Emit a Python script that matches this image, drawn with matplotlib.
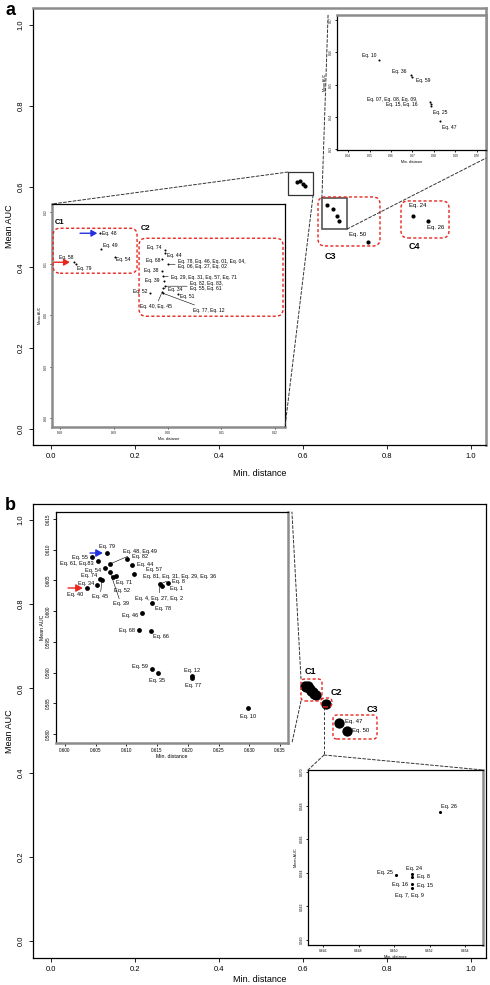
import matplotlib
matplotlib.use("Agg")
import matplotlib.pyplot as plt
from matplotlib.patches import ConnectionPatch, FancyBboxPatch, Rectangle

plt.rcParams["font.family"] = ["Liberation Sans", "DejaVu Sans"]

W, H = 490, 985

# ---------------- panel a : main scatter ----------------
a_x = [0.586, 0.593, 0.600, 0.605, 0.656, 0.671, 0.681, 0.685, 0.754, 0.861, 0.897]
a_y = [0.611, 0.614, 0.606, 0.601, 0.554, 0.544, 0.528, 0.514, 0.464, 0.528, 0.516]
a_names = ["", "", "", "", "", "", "", "", "Eq. 50", "Eq. 24", "Eq. 26"]

# panel a : left inset (square near 0.6, 0.61)
a1_x = [0.58744, 0.58763, 0.59023, 0.58260, 0.58298, 0.59953, 0.59953, 0.59898, 0.60009,
        0.59898, 0.59916, 0.59935, 0.59953, 0.59916, 0.60195, 0.59674, 0.59898, 0.59916]
a1_y = [0.61592, 0.61282, 0.61126, 0.61029, 0.60990, 0.61262, 0.61204, 0.61087, 0.60990,
        0.60854, 0.60757, 0.60660, 0.60564, 0.60525, 0.60408, 0.60427, 0.60447, 0.60427]
a1_names = ["Eq. 48", "Eq. 49", "Eq. 54", "Eq. 58", "Eq. 79", "Eq. 74", "Eq. 44", "Eq. 68",
            "Eq. 78, Eq. 46, Eq. 01, Eq. 04,\nEq. 06, Eq. 27, Eq. 02", "Eq. 38",
            "Eq. 29, Eq. 31, Eq. 57, Eq. 71", "Eq. 39", "Eq. 82, Eq. 83,\nEq. 55, Eq. 61",
            "Eq. 34", "Eq. 51", "Eq. 52", "Eq. 40, Eq. 45", "Eq. 77, Eq. 12"]
a1_xticks = [0.58, 0.59, 0.60, 0.61, 0.62]
a1_yticks = [0.58, 0.59, 0.60, 0.61, 0.62]

# panel a : top-right inset (cluster C3)
a2_x = [0.65442, 0.66930, 0.66977, 0.67814, 0.67860, 0.67860, 0.68279]
a2_y = [0.55762, 0.55297, 0.55235, 0.54461, 0.54399, 0.54337, 0.53873]
a2_names = ["Eq. 10", "Eq. 36", "Eq. 59", "Eq. 07, Eq. 08, Eq. 09,\nEq. 15, Eq. 16", "", "Eq. 25", "Eq. 47"]
a2_xticks = [0.64, 0.65, 0.66, 0.67, 0.68, 0.69, 0.70]
a2_yticks = [0.53, 0.54, 0.55, 0.56, 0.57]

# ---------------- panel b : main scatter ----------------
b_x = [0.604, 0.608, 0.612, 0.616, 0.619, 0.623, 0.627, 0.631, 0.655, 0.686, 0.705]
b_y = [0.606, 0.603, 0.605, 0.599, 0.595, 0.591, 0.587, 0.584, 0.563, 0.518, 0.499]
b_names = ["", "", "", "", "", "", "", "", "", "Eq. 47", "Eq. 50"]

# panel b : left inset (C1)
b1_x = [0.60684, 0.60440, 0.60537, 0.60733, 0.61010, 0.60651, 0.61091, 0.61124, 0.60570,
        0.60521, 0.60358, 0.60603, 0.60831, 0.60782, 0.60733, 0.61547, 0.61677, 0.61580,
        0.61417, 0.61254, 0.61205, 0.61401, 0.61417, 0.61515, 0.62068, 0.62068, 0.62980]
b1_y = [0.60946, 0.60881, 0.60816, 0.60767, 0.60849, 0.60702, 0.60751, 0.60604, 0.60523,
        0.60425, 0.60376, 0.60507, 0.60572, 0.60555, 0.60637, 0.60441, 0.60458, 0.60409,
        0.60132, 0.59969, 0.59692, 0.59676, 0.59057, 0.58992, 0.58943, 0.58910, 0.58422]
b1_names = ["Eq. 79", "Eq. 55", "Eq. 61, Eq.83", "Eq. 48, Eq.49", "Eq. 82", "Eq. 54", "Eq. 44",
            "Eq. 57", "Eq. 74", "Eq. 34", "Eq. 40", "Eq. 45", "Eq. 71", "Eq. 52", "Eq. 39",
            "Eq. 81, Eq. 31, Eq. 29, Eq. 36", "Eq. 8", "Eq. 1", "Eq. 78", "Eq. 46", "Eq. 68",
            "Eq. 66", "Eq. 59", "Eq. 35", "Eq. 12", "Eq. 77", "Eq. 10"]
b1_xticks = [0.600, 0.605, 0.610, 0.615, 0.620, 0.625, 0.630, 0.635]
b1_yticks = [0.580, 0.585, 0.590, 0.595, 0.600, 0.605, 0.610, 0.615]

# panel b : bottom-right inset (C2)
b2_x = [0.65259, 0.65101, 0.65011, 0.65101, 0.65101, 0.65101]
b2_y = [0.56762, 0.56393, 0.56387, 0.56375, 0.56333, 0.56310]
b2_names = ["Eq. 26", "Eq. 24", "Eq. 25", "Eq. 8", "Eq. 15", "Eq. 7, Eq. 9"]
b2_xticks = [0.646, 0.648, 0.650, 0.652, 0.654]
b2_yticks = [0.560, 0.562, 0.564, 0.566, 0.568, 0.570]

main_ticks = [0.0, 0.2, 0.4, 0.6, 0.8, 1.0]

# label placement: (dx, dy) in pixels from the point, horizontal alignment
a_lab = {"Eq. 50": (-19, 7, "left"), "Eq. 24": (-4, 10, "left"), "Eq. 26": (-1, -7, "left")}
a1_lab = [(2, 0, "left"), (2, 4, "left"), (1, -2, "left"), (-1, 5, "right"), (1, -4, "left"),
          (-4, 3, "right"), (2, -2, "left"), (-2, -1, "right"), (10, 0, "left"), (-4, 1, "right"),
          (8, -1, "left"), (-5, 1, "right"), (25, 0, "left"), (5, -1, "left"), (2, -2, "left"),
          (-3, 2, "right"), (-22, -14, "left"), (30, -17, "left")]
a2_lab = [(-3, 4, "right"), (-5, 4, "right"), (4, -3, "left"), (-12, 0, "right"), None,
          (2, -6, "left"), (2, -7, "left")]
b_lab = {"Eq. 47": (6, 1, "left"), "Eq. 50": (5, 0, "left")}
b1_lab = [(-8, 7, "left"), (-4, 0, "right"), (-4, -2, "right"), (13, 13, "left"), (5, 2, "left"),
          (-4, -2, "right"), (5, 0, "left"), (12, 5, "left"), (-3, 3, "right"), (-3, 2, "right"),
          (-4, -6, "right"), (-10, -17, "left"), (0, -7, "left"), (1, -13, "left"), (3, -32, "left"),
          (-17, 8, "left"), (4, 1, "left"), (8, -3, "left"), (3, -5, "left"), (-4, -2, "right"),
          (-4, 0, "right"), (2, -5, "left"), (-4, 3, "right"), (-9, -7, "left"), (-8, 6, "left"),
          (-7, -7, "left"), (-8, -8, "left")]
b2_lab = [(1, 5, "left"), (-6, 5, "left"), (-3, 2, "right"), (5, 0, "left"), (5, -1, "left"), (-17, -8, "left")]


def px_rect(x0, y0, x1, y1):
    return [x0 / W, 1 - y1 / H, (x1 - x0) / W, (y1 - y0) / H]


def frame(ax, gray, lw=0.9):
    for side in ["left", "right", "top", "bottom"]:
        if side[0] in gray:
            ax.spines[side].set_color("#8c8c8c")
            ax.spines[side].set_linewidth(1.8)
        else:
            ax.spines[side].set_color("black")
            ax.spines[side].set_linewidth(lw)


def setup(ax, xlim, ylim, xticks, yticks, fs, ticklen, fmt):
    ax.set_xlim(*xlim)
    ax.set_ylim(*ylim)
    ax.set_xticks(xticks)
    ax.set_yticks(yticks)
    ax.set_xticklabels([fmt.format(v) for v in xticks], fontsize=fs)
    ax.set_yticklabels([fmt.format(v) for v in yticks], fontsize=fs, rotation=90, va="center")
    ax.tick_params(length=ticklen, width=0.6, pad=1.5 if fs < 4 else 3, direction="out")


def red_box(ax, x0, y0, x1, y1, r_px=6):
    pos = ax.get_position()
    xl, yl = ax.get_xlim(), ax.get_ylim()
    sx = pos.width * W / (xl[1] - xl[0])
    sy = pos.height * H / (yl[1] - yl[0])
    p = FancyBboxPatch((x0, y0), x1 - x0, y1 - y0,
                       boxstyle=f"round,pad=0,rounding_size={r_px / sx}",
                       mutation_aspect=sx / sy, fill=False, edgecolor="#e8261e",
                       linestyle=(0, (2.2, 1.6)), linewidth=1.0, zorder=5)
    ax.add_patch(p)


def put_labels(ax, xs, ys, names, specs, fs, line_for=()):
    for i, (x, y, name) in enumerate(zip(xs, ys, names)):
        if not name:
            continue
        spec = specs[name] if isinstance(specs, dict) else specs[i]
        if spec is None:
            continue
        dx, dy, ha = spec
        kw = {}
        if i in line_for:
            kw["arrowprops"] = dict(arrowstyle="-", lw=0.4, color="black", shrinkA=0, shrinkB=1)
        ax.annotate(name, (x, y), xytext=(dx, dy), textcoords="offset pixels",
                    ha=ha, va="center", fontsize=fs, linespacing=0.95, **kw)


def connect(fig, ax_from, xy_from, ax_to, xy_to):
    con = ConnectionPatch(xyA=xy_from, coordsA=ax_from.transData, xyB=xy_to,
                          coordsB=ax_to.transAxes, color="#333333", lw=0.7,
                          linestyle=(0, (3, 2)), zorder=3)
    fig.add_artist(con)


fig = plt.figure(figsize=(W / 100, H / 100), dpi=100)

# ======================= panel a =======================
ax_a = fig.add_axes(px_rect(33, 8, 486, 445))
setup(ax_a, (-0.0429, 1.0357), (-0.0396, 1.042), main_ticks, main_ticks, 5.5, 3, "{:.1f}")
frame(ax_a, "tr")
ax_a.scatter(a_x, a_y, s=9, color="black", zorder=4, linewidths=0)
put_labels(ax_a, a_x, a_y, a_names, a_lab, 4.3)
ax_a.set_xlabel("Min. distance", fontsize=6.5, labelpad=6)
ax_a.set_ylabel("Mean AUC", fontsize=6.5, labelpad=3)
red_box(ax_a, 0.6357, 0.4530, 0.7833, 0.5743, 7)
red_box(ax_a, 0.8333, 0.4728, 0.9476, 0.5644, 7)
ax_a.text(0.652, 0.438, "C3", fontsize=6.5, fontweight="bold", va="top")
ax_a.text(0.852, 0.462, "C4", fontsize=6.5, fontweight="bold", va="top")
ax_a.add_patch(Rectangle((0.564, 0.579), 0.060, 0.057, fill=False, edgecolor="#333333", lw=0.9, zorder=3))
ax_a.add_patch(Rectangle((0.645, 0.495), 0.060, 0.077, fill=False, edgecolor="#555555", lw=1.2, zorder=3))
fig.text(5 / W, 1 - 2 / H, "a", fontsize=13, fontweight="bold", va="top")

# left inset of panel a
ia1 = fig.add_axes(px_rect(52, 204, 285, 427))
setup(ia1, (0.5785, 0.62186), (0.5783, 0.6216), a1_xticks, a1_yticks, 2.2, 1.5, "{:.2f}")
frame(ia1, "lb")
ia1.scatter(a1_x, a1_y, s=2.2, color="black", zorder=4, linewidths=0)
put_labels(ia1, a1_x, a1_y, a1_names, a1_lab, 3.6, line_for=(8, 10, 12, 13, 16, 17))
ia1.set_xlabel("Min. distance", fontsize=2.6, labelpad=1)
ia1.set_ylabel("Mean AUC", fontsize=2.6, labelpad=1)
red_box(ia1, 0.57870, 0.60816, 0.59433, 0.61689, 7)
red_box(ia1, 0.59470, 0.59981, 0.62149, 0.61495, 7)
ia1.text(0.5791, 0.6180, "C1", fontsize=5.5, fontweight="bold", va="center")
ia1.text(0.5951, 0.6168, "C2", fontsize=5.5, fontweight="bold", va="center")
ia1.annotate("", xy=(a1_x[0], a1_y[0]), xytext=(-20, 0), textcoords="offset pixels",
             arrowprops=dict(arrowstyle="-|>,head_length=0.35,head_width=0.2", color="#2230e0", lw=1.0,
                             shrinkA=0, shrinkB=2))
ia1.annotate("", xy=(a1_x[3], a1_y[3]), xytext=(-20, 0), textcoords="offset pixels",
             arrowprops=dict(arrowstyle="-|>,head_length=0.35,head_width=0.2", color="#e8261e", lw=1.0,
                             shrinkA=0, shrinkB=3))

# top-right inset of panel a
ia2 = fig.add_axes(px_rect(337, 15, 486, 150))
setup(ia2, (0.63488, 0.70419), (0.52975, 0.57155), a2_xticks, a2_yticks, 2.2, 1.5, "{:.2f}")
frame(ia2, "tr")
ia2.scatter(a2_x, a2_y, s=2.2, color="black", zorder=4, linewidths=0)
put_labels(ia2, a2_x, a2_y, a2_names, a2_lab, 3.6)
ia2.set_xlabel("Min. distance", fontsize=2.6, labelpad=1)
ia2.set_ylabel("Mean AUC", fontsize=2.6, labelpad=1)

connect(fig, ax_a, (0.564, 0.636), ia1, (0.0, 1.0))
connect(fig, ax_a, (0.624, 0.579), ia1, (1.0, 0.0))
connect(fig, ax_a, (0.645, 0.572), ia2, (-0.06, 1.0))
connect(fig, ax_a, (0.705, 0.495), ia2, (1.0, -0.06))

# ======================= panel b =======================
ax_b = fig.add_axes(px_rect(33, 504, 486, 958))
setup(ax_b, (-0.0429, 1.0357), (-0.0404, 1.038), main_ticks, main_ticks, 5.5, 3, "{:.1f}")
frame(ax_b, "")
ax_b.scatter(b_x, b_y, s=55, color="black", zorder=4, linewidths=0)
put_labels(ax_b, b_x, b_y, b_names, b_lab, 4.3)
ax_b.set_xlabel("Min. distance", fontsize=6.5, labelpad=1.5)
ax_b.set_ylabel("Mean AUC", fontsize=6.5, labelpad=3)
red_box(ax_b, 0.5952, 0.5701, 0.6452, 0.6223, 4)
red_box(ax_b, 0.6429, 0.5558, 0.6690, 0.5772, 4)
red_box(ax_b, 0.6714, 0.4798, 0.7762, 0.5368, 4)
ax_b.text(0.617, 0.639, "C1", fontsize=6.5, fontweight="bold", ha="center", va="center")
ax_b.text(0.679, 0.591, "C2", fontsize=6.5, fontweight="bold", ha="center", va="center")
ax_b.text(0.764, 0.549, "C3", fontsize=6.5, fontweight="bold", ha="center", va="center")
ax_b.plot([0.650, 0.650], [0.5558, 0.4418], color="#333333", lw=0.7, linestyle=(0, (3, 2)), zorder=3)
fig.text(5 / W, 1 - 497 / H, "b", fontsize=13, fontweight="bold", va="top")

# left inset of panel b
ib1 = fig.add_axes(px_rect(56, 512, 288, 743))
setup(ib1, (0.59853, 0.63632), (0.57852, 0.61614), b1_xticks, b1_yticks, 3.3, 2, "{:.3f}")
frame(ib1, "rb")
ib1.scatter(b1_x, b1_y, s=12, color="black", zorder=4, linewidths=0)
put_labels(ib1, b1_x, b1_y, b1_names, b1_lab, 4.0, line_for=(2, 3, 11, 14, 15))
ib1.set_xlabel("Min. distance", fontsize=3.8, labelpad=1)
ib1.set_ylabel("Mean AUC", fontsize=3.8, labelpad=1)
ib1.annotate("", xy=(b1_x[0], b1_y[0]), xytext=(-17, 0), textcoords="offset pixels",
             arrowprops=dict(arrowstyle="-|>,head_length=0.4,head_width=0.22", color="#2230e0", lw=1.0,
                             shrinkA=0, shrinkB=3))
ib1.annotate("", xy=(b1_x[10], b1_y[10]), xytext=(-19, 0), textcoords="offset pixels",
             arrowprops=dict(arrowstyle="-|>,head_length=0.4,head_width=0.22", color="#e8261e", lw=1.0,
                             shrinkA=0, shrinkB=3))
ib1.annotate("Eq. 4, Eq. 27, Eq. 2", (b1_x[15], b1_y[15]), xytext=(-25, -14), textcoords="offset pixels",
             ha="left", va="center", fontsize=4.0,
             arrowprops=dict(arrowstyle="-", lw=0.4, color="black", shrinkA=0, shrinkB=1))

# bottom-right inset of panel b
ib2 = fig.add_axes(px_rect(308, 770, 483, 945))
setup(ib2, (0.64515, 0.65501), (0.55970, 0.57012), b2_xticks, b2_yticks, 2.4, 1.5, "{:.3f}")
frame(ib2, "r")
ib2.scatter(b2_x, b2_y, s=5, color="black", zorder=4, linewidths=0)
put_labels(ib2, b2_x, b2_y, b2_names, b2_lab, 4.0)
ib2.annotate("Eq. 16", (b2_x[3], b2_y[4]), xytext=(-4, 0), textcoords="offset pixels",
             ha="right", va="center", fontsize=4.0)
ib2.set_xlabel("Min. distance", fontsize=2.8, labelpad=1)
ib2.set_ylabel("Mean AUC", fontsize=2.8, labelpad=1)

connect(fig, ax_b, (0.5952, 0.6223), ib1, (1.017, 1.0))
connect(fig, ax_b, (0.5952, 0.5701), ib1, (1.017, 0.0))
connect(fig, ax_b, (0.650, 0.4418), ib2, (0.0, 1.0))
connect(fig, ax_b, (0.650, 0.4418), ib2, (1.0, 1.0))

fig.savefig("out.png", dpi=100)
